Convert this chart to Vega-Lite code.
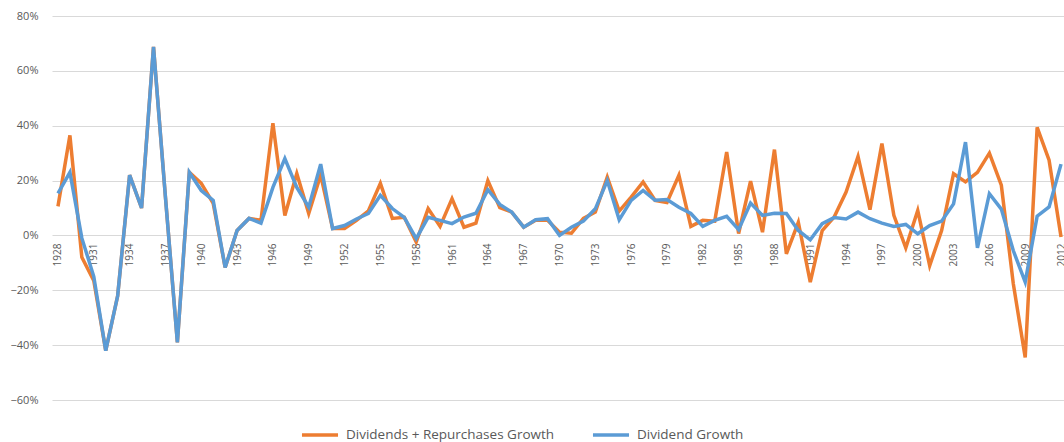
{
  "$schema": "https://vega.github.io/schema/vega-lite/v6.json",
  "autosize": "none",
  "padding": {"left": 52, "top": 16, "right": 0, "bottom": 42},
  "width": 1015,
  "height": 384,
  "background": "white",
  "config": {
    "view": {"stroke": null},
    "font": "Open Sans",
    "axis": {"labelColor": "#595959", "labelFont": "Open Sans", "domain": false, "ticks": false}
  },
  "data": {"values": [
    {"year": 1928, "dr": 0.106, "d": 0.153},
    {"year": 1929, "dr": 0.365, "d": 0.23},
    {"year": 1930, "dr": -0.08, "d": -0.01},
    {"year": 1931, "dr": -0.165, "d": -0.15},
    {"year": 1932, "dr": -0.42, "d": -0.42},
    {"year": 1933, "dr": -0.22, "d": -0.22},
    {"year": 1934, "dr": 0.22, "d": 0.22},
    {"year": 1935, "dr": 0.10, "d": 0.10},
    {"year": 1936, "dr": 0.687, "d": 0.687},
    {"year": 1937, "dr": 0.14, "d": 0.14},
    {"year": 1938, "dr": -0.39, "d": -0.39},
    {"year": 1939, "dr": 0.23, "d": 0.23},
    {"year": 1940, "dr": 0.19, "d": 0.164},
    {"year": 1941, "dr": 0.117, "d": 0.128},
    {"year": 1942, "dr": -0.117, "d": -0.117},
    {"year": 1943, "dr": 0.018, "d": 0.018},
    {"year": 1944, "dr": 0.062, "d": 0.062},
    {"year": 1945, "dr": 0.055, "d": 0.045},
    {"year": 1946, "dr": 0.409, "d": 0.175},
    {"year": 1947, "dr": 0.073, "d": 0.28},
    {"year": 1948, "dr": 0.226, "d": 0.175},
    {"year": 1949, "dr": 0.08, "d": 0.103},
    {"year": 1950, "dr": 0.22, "d": 0.26},
    {"year": 1951, "dr": 0.025, "d": 0.025},
    {"year": 1952, "dr": 0.025, "d": 0.036},
    {"year": 1953, "dr": 0.055, "d": 0.06},
    {"year": 1954, "dr": 0.09, "d": 0.08},
    {"year": 1955, "dr": 0.19, "d": 0.146},
    {"year": 1956, "dr": 0.062, "d": 0.098},
    {"year": 1957, "dr": 0.066, "d": 0.066},
    {"year": 1958, "dr": -0.024, "d": -0.012},
    {"year": 1959, "dr": 0.098, "d": 0.066},
    {"year": 1960, "dr": 0.033, "d": 0.055},
    {"year": 1961, "dr": 0.134, "d": 0.043},
    {"year": 1962, "dr": 0.03, "d": 0.067},
    {"year": 1963, "dr": 0.045, "d": 0.081},
    {"year": 1964, "dr": 0.20, "d": 0.167},
    {"year": 1965, "dr": 0.101, "d": 0.113},
    {"year": 1966, "dr": 0.085, "d": 0.085},
    {"year": 1967, "dr": 0.03, "d": 0.03},
    {"year": 1968, "dr": 0.055, "d": 0.057},
    {"year": 1969, "dr": 0.055, "d": 0.061},
    {"year": 1970, "dr": 0.012, "d": 0.0},
    {"year": 1971, "dr": 0.008, "d": 0.03},
    {"year": 1972, "dr": 0.062, "d": 0.052},
    {"year": 1973, "dr": 0.085, "d": 0.097},
    {"year": 1974, "dr": 0.213, "d": 0.20},
    {"year": 1975, "dr": 0.089, "d": 0.057},
    {"year": 1976, "dr": 0.14, "d": 0.128},
    {"year": 1977, "dr": 0.195, "d": 0.164},
    {"year": 1978, "dr": 0.128, "d": 0.128},
    {"year": 1979, "dr": 0.12, "d": 0.131},
    {"year": 1980, "dr": 0.219, "d": 0.103},
    {"year": 1981, "dr": 0.033, "d": 0.08},
    {"year": 1982, "dr": 0.055, "d": 0.033},
    {"year": 1983, "dr": 0.052, "d": 0.055},
    {"year": 1984, "dr": 0.304, "d": 0.07},
    {"year": 1985, "dr": 0.007, "d": 0.021},
    {"year": 1986, "dr": 0.198, "d": 0.118},
    {"year": 1987, "dr": 0.012, "d": 0.073},
    {"year": 1988, "dr": 0.313, "d": 0.081},
    {"year": 1989, "dr": -0.067, "d": 0.08},
    {"year": 1990, "dr": 0.048, "d": 0.018},
    {"year": 1991, "dr": -0.17, "d": -0.016},
    {"year": 1992, "dr": 0.018, "d": 0.043},
    {"year": 1993, "dr": 0.067, "d": 0.065},
    {"year": 1994, "dr": 0.158, "d": 0.06},
    {"year": 1995, "dr": 0.288, "d": 0.085},
    {"year": 1996, "dr": 0.094, "d": 0.061},
    {"year": 1997, "dr": 0.335, "d": 0.045},
    {"year": 1998, "dr": 0.073, "d": 0.033},
    {"year": 1999, "dr": -0.045, "d": 0.04},
    {"year": 2000, "dr": 0.091, "d": 0.006},
    {"year": 2001, "dr": -0.11, "d": 0.036},
    {"year": 2002, "dr": 0.018, "d": 0.052},
    {"year": 2003, "dr": 0.225, "d": 0.115},
    {"year": 2004, "dr": 0.195, "d": 0.34},
    {"year": 2005, "dr": 0.23, "d": -0.045},
    {"year": 2006, "dr": 0.30, "d": 0.152},
    {"year": 2007, "dr": 0.183, "d": 0.096},
    {"year": 2008, "dr": -0.175, "d": -0.055},
    {"year": 2009, "dr": -0.445, "d": -0.17},
    {"year": 2010, "dr": 0.394, "d": 0.07},
    {"year": 2011, "dr": 0.274, "d": 0.104},
    {"year": 2012, "dr": -0.006, "d": 0.26}
  ]},
  "transform": [{"fold": ["dr", "d"], "as": ["series", "value"]}],
  "mark": {"type": "line", "strokeWidth": 3.5, "strokeJoin": "miter", "clip": false},
  "encoding": {
    "x": {
      "field": "year", "type": "quantitative",
      "scale": {"domain": [1927.5, 2012.5], "nice": false, "zero": false},
      "axis": {
        "title": null, "grid": false, "offset": -165,
        "values": [1928,1931,1934,1937,1940,1943,1946,1949,1952,1955,1958,1961,1964,1967,1970,1973,1976,1979,1982,1985,1988,1991,1994,1997,2000,2003,2006,2009,2012],
        "format": "d", "labelAngle": -90, "labelFontSize": 10, "labelPadding": 8, "labelFlush": false, "labelOverlap": false
      }
    },
    "y": {
      "field": "value", "type": "quantitative",
      "scale": {"domain": [-0.6, 0.8], "nice": false},
      "axis": {
        "title": null, "format": ".0%", "values": [-0.6,-0.4,-0.2,0,0.2,0.4,0.6,0.8],
        "gridColor": "#d9d9d9", "gridWidth": 1, "labelFontSize": 11, "labelPadding": 14
      }
    },
    "color": {
      "field": "series", "type": "nominal",
      "scale": {"domain": ["dr", "d"], "range": ["#ED7D31", "#5B9BD5"]},
      "legend": {
        "title": null, "orient": "none", "direction": "horizontal",
        "legendX": 248, "legendY": 399,
        "labelExpr": "datum.value == 'dr' ? 'Dividends + Repurchases Growth' : 'Dividend Growth'",
        "symbolType": "stroke", "symbolStrokeWidth": 3.5, "symbolSize": 1300,
        "labelFontSize": 13.5, "labelLimit": 0, "labelColor": "#595959", "labelOffset": 6, "columnPadding": 30
      }
    },
    "order": {"field": "year"}
  }
}
